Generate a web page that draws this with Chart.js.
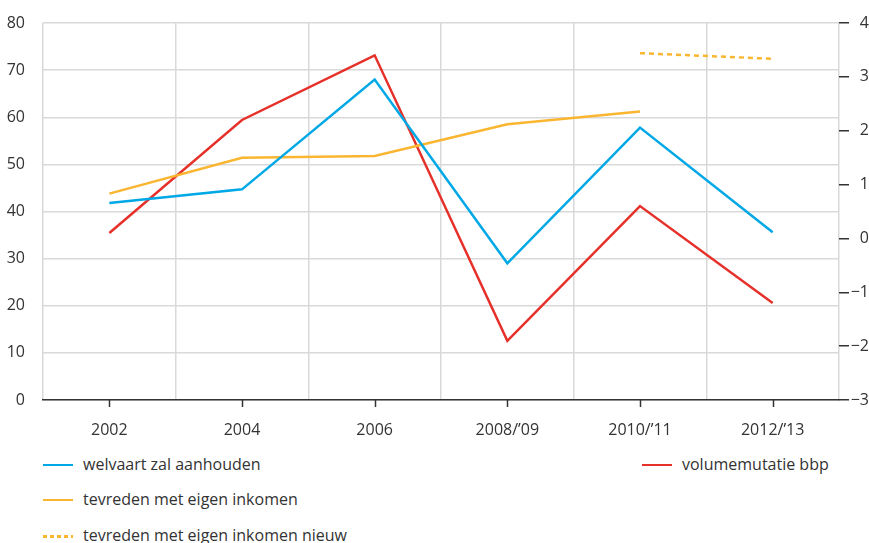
<!DOCTYPE html>
<html>
<head>
<meta charset="utf-8">
<script src="https://cdn.jsdelivr.net/npm/chart.js@4/dist/chart.umd.min.js"></script>
<style>
  html, body { margin: 0; padding: 0; background: #fff; }
  #wrap { position: relative; width: 869px; height: 543px; overflow: hidden; }
  #c { position: absolute; left: 0; top: 0; }
  .item { position: absolute; height: 20px; font: 16px 'Open Sans', sans-serif; color: #333; white-space: nowrap; }
  .item .swatch { position: absolute; left: 0; top: 9px; width: 30px; height: 0; border-top-width: 2.5px; }
  .item .txt { position: absolute; left: 40px; top: -1px; line-height: 20px; }
</style>
</head>
<body>
<div id="wrap">
  <canvas id="c" width="869" height="450"></canvas>
  <div id="legend"></div>
</div>
<script>
// ---- data ----
const categories = ["2002", "2004", "2006", "2008/\u201909", "2010/\u201911", "2012/\u201913"];
const welvaart = [41.8, 44.7, 68.0, 29.0, 57.8, 35.6];
const tevreden = [43.8, 51.4, 51.8, 58.5, 61.2, null];
const tevredenNieuw = [null, null, null, null, 73.6, 72.4];
const volumemutatie = [0.1, 2.2, 3.4, -1.9, 0.6, -1.2];
const leftTicks = [0, 10, 20, 30, 40, 50, 60, 70, 80];
const rightTicks = [-3, -2, -1, 0, 1, 2, 3, 4];

const labelNames = ["welvaart zal aanhouden", "volumemutatie bbp", "tevreden met eigen inkomen", "tevreden met eigen inkomen nieuw"];

const BLUE = '#00a8e6', RED = '#e6302a', ORANGE = '#fbb631';
const TXT = '#333333', GRID = '#d9d9d9';

Chart.defaults.font.family = "'Open Sans', sans-serif";
Chart.defaults.font.size = 16;
Chart.defaults.color = TXT;

const centerTicks = {
  id: 'centerTicks',
  afterDraw(chart) {
    const x = chart.scales.x;
    const ctx = chart.ctx;
    ctx.save();
    ctx.strokeStyle = TXT;
    ctx.lineWidth = 1.5;
    for (let i = 0; i < categories.length; i++) {
      const px = Math.round(x.getPixelForValue(i)) + 0.5;
      ctx.beginPath();
      ctx.moveTo(px, chart.chartArea.bottom);
      ctx.lineTo(px, chart.chartArea.bottom + 7);
      ctx.stroke();
    }
    ctx.restore();
  }
};

const chart = new Chart(document.getElementById('c'), {
  type: 'line',
  data: {
    labels: categories,
    datasets: [
      { label: labelNames[0], data: welvaart, borderColor: BLUE, yAxisID: 'y', borderWidth: 2.5 },
      { label: labelNames[2], data: tevreden, borderColor: ORANGE, yAxisID: 'y', borderWidth: 2.5 },
      { label: labelNames[3], data: tevredenNieuw, borderColor: ORANGE, yAxisID: 'y', borderWidth: 2.5, borderDash: [5, 4] },
      { label: labelNames[1], data: volumemutatie, borderColor: RED, yAxisID: 'y2', borderWidth: 2.5 }
    ]
  },
  options: {
    responsive: false,
    animation: false,
    spanGaps: false,
    elements: { point: { radius: 0, hoverRadius: 0 }, line: { tension: 0, borderCapStyle: 'butt', borderJoinStyle: 'miter' } },
    layout: { padding: { top: 23, left: 0, right: 0, bottom: 0 } },
    plugins: { legend: { display: false }, tooltip: { enabled: false } },
    scales: {
      x: {
        type: 'category',
        offset: true,
        grid: { offset: true, color: GRID, lineWidth: 1.5, drawTicks: false },
        border: { display: true, color: TXT, width: 1.5 },
        ticks: { padding: 21, color: TXT, maxRotation: 0, autoSkip: false },
        afterFit(s) { s.height = 50; }
      },
      y: {
        position: 'left',
        min: leftTicks[0], max: leftTicks[leftTicks.length - 1],
        afterBuildTicks(s) { s.ticks = leftTicks.map(v => ({ value: v })); },
        grid: { color: GRID, lineWidth: 1.5, drawTicks: true, tickLength: 15, tickColor: 'rgba(0,0,0,0)' },
        border: { display: false },
        ticks: { padding: 3, color: TXT },
        afterFit(s) { s.width = 43; }
      },
      y2: {
        position: 'right',
        min: rightTicks[0], max: rightTicks[rightTicks.length - 1],
        afterBuildTicks(s) { s.ticks = rightTicks.map(v => ({ value: v })); },
        grid: { drawOnChartArea: false, drawTicks: true, tickLength: 10, color: TXT, lineWidth: 1.5 },
        border: { display: false },
        ticks: { padding: 4, color: TXT, crossAlign: 'far', callback: v => String(v).replace('-', '\u2212') },
        afterFit(s) { s.width = 30; }
      }
    }
  },
  plugins: [centerTicks]
});

// ---- HTML legend built from datasets ----
const slots = [
  { left: 43, top: 455 },  // welvaart
  { left: 43, top: 490 },  // tevreden
  { left: 43, top: 526 },  // tevreden nieuw
  { left: 642, top: 455 }  // volumemutatie
];
const legend = document.getElementById('legend');
chart.data.datasets.forEach((ds, i) => {
  const it = document.createElement('div');
  it.className = 'item';
  it.style.left = slots[i].left + 'px';
  it.style.top = slots[i].top + 'px';
  const sw = document.createElement('div');
  sw.className = 'swatch';
  sw.style.borderTopStyle = 'solid';
  sw.style.borderTopColor = ds.borderColor;
  if (ds.borderDash) {
    sw.style.borderTop = 'none';
    sw.style.height = '2.5px';
    sw.style.background = `repeating-linear-gradient(90deg, ${ds.borderColor} 0 4px, transparent 4px 7px)`;
  }
  const t = document.createElement('div');
  t.className = 'txt';
  t.textContent = ds.label;
  it.appendChild(sw);
  it.appendChild(t);
  legend.appendChild(it);
});
</script>
</body>
</html>
